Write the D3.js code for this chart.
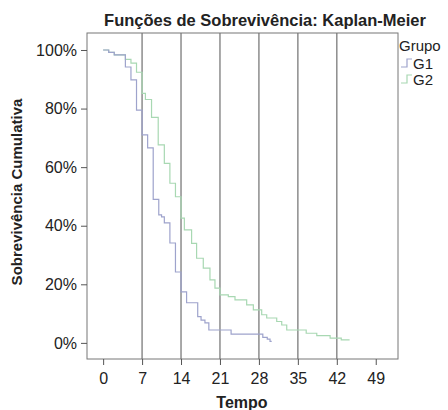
<!DOCTYPE html>
<html>
<head>
<meta charset="utf-8">
<script src="https://cdn.jsdelivr.net/npm/d3@7"></script>
<style>
  body { margin: 0; background: #fff; }
  text { font-family: "Liberation Sans", Arial, sans-serif; fill: #222; }
</style>
</head>
<body>
<div id="chart"></div>
<script>
// tick labels and reference lines
var xTicks = [0, 7, 14, 21, 28, 35, 42, 49];
var yTicks = [0, 20, 40, 60, 80, 100];
var refLines = [7, 14, 21, 28, 35, 42];
var groups = ["G1", "G2"];

// Kaplan-Meier steps (time, cumulative survival %)
var g1Time = [0, 1, 2, 4, 5, 6, 7, 8, 9, 10, 10.5, 11, 12, 13, 14, 15, 17, 17.6, 18.3, 19, 23, 28.7, 29.5, 30];
var g1Surv = [100, 99.2, 98.3, 94.2, 89.8, 79.5, 71, 66.6, 49, 43.7, 43, 41, 34.1, 24.2, 17.4, 13.7, 9, 7.8, 6.8, 4.4, 3, 1.9, 1.3, 0.5];
var g1End = 30.3;

var g2Time = [0, 1, 2, 4, 5, 6, 7, 7.6, 8.7, 9.9, 11, 12, 13, 14, 14.6, 15.9, 16.8, 18, 19.2, 20.1, 21, 22.5, 23.7, 25.8, 27, 28.5, 29.4, 31.2, 32.1, 33, 36.5, 38.4, 40.8, 42.8];
var g2Surv = [100, 99.2, 98.3, 96.8, 95.5, 92.4, 85.2, 83.1, 77, 67.6, 61.3, 54.5, 49.9, 42.6, 38.6, 34, 28.9, 25.5, 21.5, 18.7, 16.4, 15.8, 14.7, 13, 11.3, 9.6, 8.5, 7.3, 6.1, 4.4, 3.3, 2.5, 1.6, 1];
var g2End = 44.3;

var colors = {G1: "#9ea3cc", G2: "#a8d8b2"};

var width = 448, height = 410;
var frame = {left: 87, right: 398, top: 33, bottom: 359};

var svg = d3.select("#chart").append("svg")
  .attr("width", width)
  .attr("height", height);

var x = d3.scaleLinear().domain([-2.9, 53]).range([frame.left, frame.right]);
var y = d3.scaleLinear().domain([-5.5, 105.8]).range([frame.bottom, frame.top]);

// title
svg.append("text")
  .attr("x", 265).attr("y", 26)
  .attr("text-anchor", "middle")
  .style("font-size", "16.5px").style("font-weight", "bold")
  .text("Funções de Sobrevivência: Kaplan-Meier");

// reference lines
svg.append("g").selectAll("line")
  .data(refLines).enter().append("line")
  .attr("x1", function(d){ return x(d); })
  .attr("x2", function(d){ return x(d); })
  .attr("y1", frame.top).attr("y2", frame.bottom)
  .style("stroke", "#8c8c8c")
  .style("stroke-width", 1.5);

// survival curves
function stepPoints(times, surv, end) {
  var pts = times.map(function(t, i){ return [t, surv[i]]; });
  pts.push([end, surv[surv.length - 1]]);
  return pts;
}
var line = d3.line()
  .x(function(d){ return x(d[0]); })
  .y(function(d){ return y(d[1]); })
  .curve(d3.curveStepAfter);

var series = [
  {name: "G2", pts: stepPoints(g2Time, g2Surv, g2End)},
  {name: "G1", pts: stepPoints(g1Time, g1Surv, g1End)}
];
svg.append("g").selectAll("path")
  .data(series).enter().append("path")
  .attr("d", function(d){ return line(d.pts); })
  .style("fill", "none")
  .style("stroke", function(d){ return colors[d.name]; })
  .style("stroke-width", 1.2);

// frame
svg.append("rect")
  .attr("x", frame.left).attr("y", frame.top)
  .attr("width", frame.right - frame.left)
  .attr("height", frame.bottom - frame.top)
  .style("fill", "none")
  .style("stroke", "#777")
  .style("stroke-width", 1);

// axes
var xAxis = d3.axisBottom(x).tickValues(xTicks).tickSize(6).tickPadding(8);
var gx = svg.append("g")
  .attr("transform", "translate(0," + frame.bottom + ")")
  .call(xAxis);
gx.select(".domain").remove();
gx.selectAll("line").style("stroke", "#555");
gx.selectAll("text").style("font-size", "16px").style("fill", "#222");

var yAxis = d3.axisLeft(y).tickValues(yTicks).tickSize(6).tickPadding(4)
  .tickFormat(function(d){ return d + "%"; });
var gy = svg.append("g")
  .attr("transform", "translate(" + frame.left + ",0)")
  .call(yAxis);
gy.select(".domain").remove();
gy.selectAll("line").style("stroke", "#555");
gy.selectAll("text").style("font-size", "16px").style("fill", "#222");

// axis titles
svg.append("text")
  .attr("x", 242).attr("y", 408)
  .attr("text-anchor", "middle")
  .style("font-size", "16px").style("font-weight", "bold")
  .text("Tempo");

svg.append("text")
  .attr("transform", "translate(22,192) rotate(-90)")
  .attr("text-anchor", "middle")
  .style("font-size", "15px").style("font-weight", "bold")
  .text("Sobrevivência Cumulativa");

// legend
var legend = svg.append("g");
legend.append("text")
  .attr("x", 399).attr("y", 51)
  .style("font-size", "15px")
  .text("Grupo");
var item = legend.selectAll(".item")
  .data(groups).enter().append("g")
  .attr("class", "item")
  .attr("transform", function(d, i){ return "translate(401," + (63 + i * 16) + ")"; });
item.append("path")
  .attr("d", "M0,4 H6 V-4 H11")
  .style("fill", "none")
  .style("stroke", function(d){ return colors[d]; })
  .style("stroke-width", 1.2);
item.append("text")
  .attr("x", 12).attr("y", 6)
  .style("font-size", "15px")
  .text(function(d){ return d; });
</script>
</body>
</html>
